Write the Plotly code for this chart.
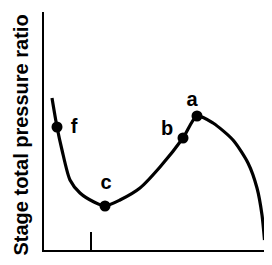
import plotly.graph_objects as go

# Curve (arbitrary units: flow on x, stage total pressure ratio on y)
curve_x = [8, 13, 18, 26, 36, 50, 61, 76, 96, 116, 139, 153, 169, 189, 204, 213, 218, 220.5]
curve_y = [152, 123, 100, 70, 57, 48, 44, 50, 62, 83, 112, 134, 127, 110, 87, 62, 35, 10]

# Labelled operating points
point_names = ["f", "c", "b", "a"]
point_x = [13, 61, 139, 153]
point_y = [123, 44, 112, 134]
label_dx = [17, 1, -16, -5]
label_dy = [-1, 22, 8, 15]

tick_x = [47]

fig = go.Figure()
fig.add_trace(go.Scatter(x=curve_x, y=curve_y, mode="lines",
                         line=dict(color="black", width=3.2, shape="spline", smoothing=0.7),
                         hoverinfo="skip", showlegend=False, cliponaxis=True))
fig.add_trace(go.Scatter(x=point_x, y=point_y, mode="markers",
                         marker=dict(color="black", size=11),
                         showlegend=False))
fig.add_trace(go.Scatter(x=[x + dx for x, dx in zip(point_x, label_dx)],
                         y=[y + dy for y, dy in zip(point_y, label_dy)],
                         mode="text", text=point_names,
                         textfont=dict(family="Arial", size=20, color="black"),
                         texttemplate="<b>%{text}</b>",
                         showlegend=False))

fig.add_annotation(text="<b>Stage total pressure ratio</b>", textangle=-90,
                   xref="paper", yref="paper", x=-0.107, y=0.481,
                   xanchor="center", yanchor="middle", showarrow=False,
                   font=dict(family="Arial", size=20, color="black"))

# page body adds an 8px offset; figure sized to fit the window
fig.update_layout(
    width=264, height=257,
    margin=dict(l=36, r=4, t=4, b=15),
    paper_bgcolor="white", plot_bgcolor="white",
    showlegend=False,
    xaxis=dict(range=[0, 224], showgrid=False, zeroline=False, automargin=False,
               showline=True, linecolor="black", linewidth=2,
               tickvals=tick_x, ticks="inside", ticklen=18, tickwidth=2,
               tickcolor="black", showticklabels=False, fixedrange=True),
    yaxis=dict(range=[0, 238], showgrid=False, zeroline=False, automargin=False,
               showline=True, linecolor="black", linewidth=2,
               showticklabels=False, ticks="", fixedrange=True),
)
fig.write_html("out.html")
